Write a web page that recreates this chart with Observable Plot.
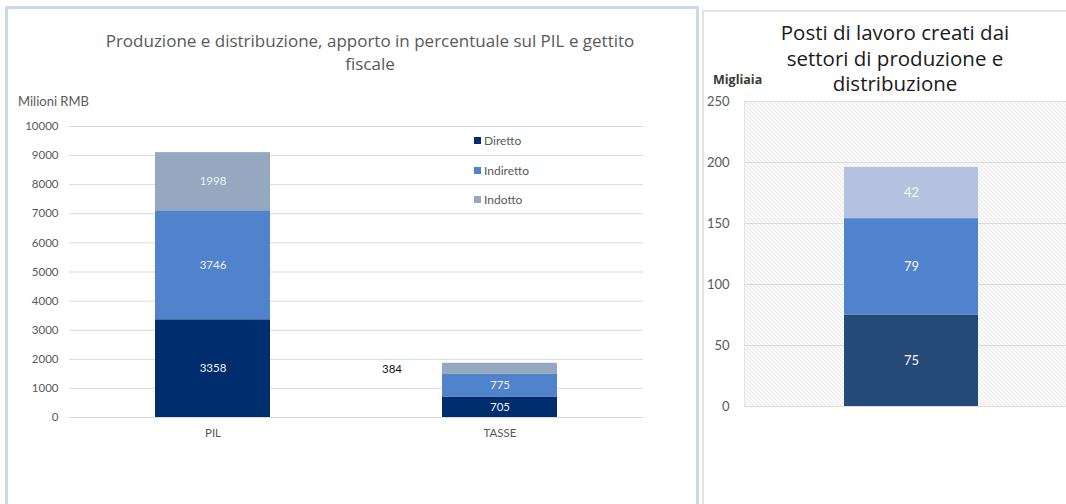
<!DOCTYPE html>
<html><head><meta charset="utf-8">
<script src="https://cdn.jsdelivr.net/npm/d3@7"></script>
<script src="https://cdn.jsdelivr.net/npm/@observablehq/plot@0.6"></script>
<style>
body{margin:0;width:1066px;height:504px;overflow:hidden;position:relative;background:#fff;font-family:Lato,"Open Sans",sans-serif;}
.abs{position:absolute;}
.leg{position:absolute;font-size:12px;color:#595959;line-height:14px;height:14px;}
.leg span{display:inline-block;width:7px;height:7px;margin-right:3px;vertical-align:1px;}
#right svg,#left svg{max-width:none !important;}
.t1{position:absolute;left:70px;width:600px;text-align:center;font-family:'Open Sans',sans-serif;font-size:17px;line-height:17px;height:17px;color:#595959;white-space:nowrap;}
.t2{position:absolute;left:745px;width:300px;text-align:center;font-family:'Open Sans',sans-serif;font-size:20.5px;line-height:21px;height:21px;color:#1a1a1a;white-space:nowrap;}
</style></head><body>
<div class="abs" style="left:5px;top:6px;width:688px;height:520px;border:3px solid #c6dbf1;border-bottom:none;"></div>
<div class="abs" style="left:702px;top:10px;width:400px;height:520px;border:2px solid #e4e4e4;border-bottom:none;"></div>
<div id="left" class="abs" style="left:0;top:100px;width:700px;height:350px;"></div>
<div id="right" class="abs" style="left:690px;top:90px;width:400px;height:340px;"></div>
<div class="t1" style="top:32px;">Produzione e distribuzione, apporto in percentuale sul PIL e gettito</div>
<div class="t1" style="top:54.5px;">fiscale</div>
<div class="abs" style="left:18px;top:94px;font-size:13px;line-height:14px;color:#595959;">Milioni RMB</div>
<div id="legend"></div>
<div class="t2" style="top:22px;">Posti di lavoro creati dai</div>
<div class="t2" style="top:47.5px;">settori di produzione e</div>
<div class="t2" style="top:73px;">distribuzione</div>
<div class="abs" style="left:713px;top:73px;font-family:'Open Sans',sans-serif;font-size:12.5px;font-weight:bold;line-height:14px;color:#3a3a3a;">Migliaia</div>
<script>
const leftCats = ["PIL", "TASSE"];
const series = ["Diretto", "Indiretto", "Indotto"];
const pilValues = [3358, 3746, 1998];
const tasseValues = [705, 775, 384];
const leftTicks = [0, 1000, 2000, 3000, 4000, 5000, 6000, 7000, 8000, 9000, 10000];
const leftColors = ["#002d6e", "#5183cd", "#95a8bf"];

const rightCat = ["Posti di lavoro"];
const jobsValues = [75, 79, 42];
const rightTicks = [0, 50, 100, 150, 200, 250];
const rightColors = ["#264a78", "#5183cc", "#b4c2df"];

const leftData = leftCats.flatMap((c, i) =>
  series.map((s, j) => ({cat: c, series: s, value: [pilValues, tasseValues][i][j]})));
const rightData = series.map((s, j) => ({cat: rightCat[0], series: s, value: jobsValues[j]}));

const isOff = d => d.cat === "TASSE" && d.series === "Indotto";

const left = Plot.plot({
  width: 700, height: 350,
  marginLeft: 69, marginRight: 57, marginTop: 26, marginBottom: 33,
  style: {fontFamily: "Lato, sans-serif", fontSize: "11.5px", color: "#595959", background: "transparent", overflow: "visible"},
  x: {domain: leftCats, paddingInner: 0.6, paddingOuter: 0.3, label: null, tickSize: 0, tickPadding: 11},
  y: {domain: [0, 10000], ticks: leftTicks, label: null, tickSize: 0, tickPadding: 11, tickFormat: d => String(d)},
  color: {domain: series, range: leftColors},
  marks: [
    Plot.ruleY(leftTicks, {stroke: "#d9d9d9", strokeWidth: 1}),
    Plot.barY(leftData, {x: "cat", y: "value", fill: "series"}),
    Plot.text(leftData, Plot.stackY({x: "cat", y: "value", text: d => isOff(d) ? "" : String(d.value), fill: "#eef2f8", fontSize: 11.5})),
    Plot.text(leftData, Plot.stackY({x: "cat", y: "value", text: d => isOff(d) ? String(d.value) : "", fill: "#111", dx: -108, fontSize: 11.5}))
  ]
});
document.getElementById("left").appendChild(left);

const right = Plot.plot({
  width: 400, height: 340,
  marginLeft: 54, marginRight: 12, marginTop: 11, marginBottom: 24,
  style: {fontFamily: "Lato, sans-serif", fontSize: "13px", color: "#595959", background: "transparent", overflow: "visible"},
  x: {domain: rightCat, paddingInner: 0.6, paddingOuter: 0.3, axis: null},
  y: {domain: [0, 250], ticks: rightTicks, label: null, tickSize: 0, tickPadding: 15, tickFormat: d => String(d)},
  color: {domain: series, range: rightColors},
  marks: [
    Plot.frame({fill: "url(#hatch)", stroke: "#e6e6e6"}),
    Plot.ruleY(rightTicks, {stroke: "#dcdcdc", strokeWidth: 1.2}),
    Plot.barY(rightData, {x: "cat", y: "value", fill: "series"}),
    Plot.text(rightData, Plot.stackY({x: "cat", y: "value", text: d => String(d.value), fill: "#f4f6fa", fontSize: 13}))
  ]
});
const NS = "http://www.w3.org/2000/svg";
const defs = document.createElementNS(NS, "defs");
const pat = document.createElementNS(NS, "pattern");
pat.setAttribute("id", "hatch");
pat.setAttribute("patternUnits", "userSpaceOnUse");
pat.setAttribute("width", "4");
pat.setAttribute("height", "4");
const bg = document.createElementNS(NS, "rect");
bg.setAttribute("width", "4"); bg.setAttribute("height", "4"); bg.setAttribute("fill", "#fbfbfb");
const ln = document.createElementNS(NS, "path");
ln.setAttribute("d", "M-1,-1L5,5M3,-1L5,1M-1,3L1,5");
ln.setAttribute("stroke", "#e2e2e2"); ln.setAttribute("stroke-width", "1");
pat.appendChild(bg); pat.appendChild(ln); defs.appendChild(pat);
right.insertBefore(defs, right.firstChild);
document.getElementById("right").appendChild(right);

const legend = document.getElementById("legend");
const legY = [134, 164, 193];
series.forEach((s, i) => {
  const d = document.createElement("div");
  d.className = "leg";
  d.style.left = "474px";
  d.style.top = legY[i] + "px";
  d.innerHTML = `<span style="background:${leftColors[i]}"></span>${s}`;
  legend.appendChild(d);
});
</script>
</body></html>
